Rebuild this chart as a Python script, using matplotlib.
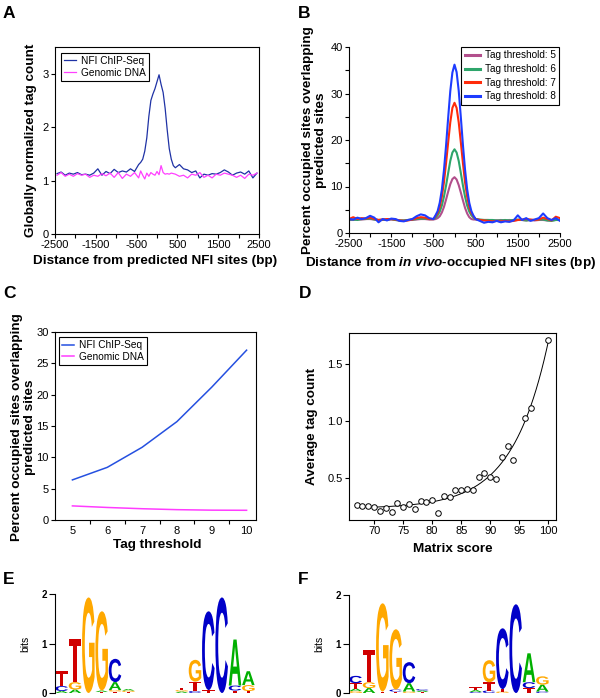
import numpy as np
import matplotlib
matplotlib.use("Agg")
import matplotlib.pyplot as plt
from matplotlib.textpath import TextPath
from matplotlib.font_manager import FontProperties
from matplotlib.patches import PathPatch
from matplotlib.transforms import Affine2D
from matplotlib.ticker import FixedLocator

plt.rcParams['font.family'] = ['Liberation Sans', 'DejaVu Sans']
plt.rcParams['mathtext.fontset'] = 'custom'
plt.rcParams['mathtext.it'] = 'Liberation Sans:italic:bold'
plt.rcParams['mathtext.rm'] = 'Liberation Sans:bold'
plt.rcParams['axes.linewidth'] = 0.8

# ---------------- Panel A data ----------------
a_x = [-2450, -2350, -2250, -2150, -2050, -1950, -1850, -1750, -1650, -1550,
       -1450, -1350, -1250, -1150, -1050, -950, -850, -750, -650, -550,
       -450, -400, -350, -300, -250, -200, -150, -100, -50, 0,
       50, 100, 150, 200, 250, 300, 350, 400, 450, 550,
       650, 750, 850, 950, 1050, 1150, 1250, 1350, 1450, 1550,
       1650, 1750, 1850, 1950, 2050, 2150, 2250, 2350, 2450]
a_chip = [1.13, 1.16, 1.10, 1.14, 1.12, 1.15, 1.11, 1.12, 1.10, 1.14,
          1.22, 1.10, 1.17, 1.13, 1.21, 1.15, 1.18, 1.16, 1.22, 1.17,
          1.30, 1.34, 1.40, 1.55, 1.80, 2.20, 2.50, 2.62, 2.72, 2.85,
          2.98, 2.80, 2.65, 2.35, 1.95, 1.60, 1.40, 1.28, 1.24, 1.30,
          1.22, 1.20, 1.15, 1.18, 1.05, 1.12, 1.10, 1.13, 1.12, 1.15,
          1.20, 1.16, 1.10, 1.14, 1.16, 1.12, 1.18, 1.05, 1.14]
a_genomic = [1.10, 1.15, 1.08, 1.12, 1.08, 1.13, 1.10, 1.12, 1.06, 1.10,
             1.08, 1.13, 1.09, 1.14, 1.06, 1.15, 1.04, 1.12, 1.08, 1.15,
             1.05, 1.18, 1.10, 1.03, 1.14, 1.08, 1.15, 1.12, 1.10, 1.17,
             1.11, 1.28, 1.15, 1.12, 1.13, 1.12, 1.14, 1.13, 1.12, 1.08,
             1.10, 1.05, 1.12, 1.10, 1.15, 1.06, 1.10, 1.05, 1.12, 1.10,
             1.14, 1.12, 1.10, 1.06, 1.10, 1.04, 1.12, 1.10, 1.14]

# ---------------- Panel B data ----------------
b_x = [-2500, -2400, -2300, -2200, -2100, -2000, -1900, -1800, -1700, -1600,
       -1500, -1400, -1300, -1200, -1100, -1000, -900, -800, -700, -600, -500,
       -450, -400, -350, -300, -250, -200, -150, -100, -50, 0,
       50, 100, 150, 200, 250, 300, 350, 400, 450,
       500, 600, 700, 800, 900, 1000, 1100, 1200, 1300, 1400,
       1500, 1600, 1700, 1800, 1900, 2000, 2100, 2200, 2300, 2400, 2500]
b_t5 = [2.8, 2.8, 2.9, 2.9, 3.0, 3.0, 2.9, 2.8, 2.9, 2.8,
        2.9, 2.8, 2.7, 2.7, 2.8, 2.8, 2.9, 3.0, 3.0, 2.9, 2.9,
        3.0, 3.2, 3.6, 4.4, 5.6, 7.2, 8.9, 10.5, 11.6, 12.0,
        11.5, 10.3, 8.7, 7.0, 5.4, 4.2, 3.4, 3.0, 2.9,
        2.9, 2.8, 2.8, 2.8, 2.7, 2.7, 2.8, 2.7, 2.8, 2.7,
        2.8, 2.8, 2.7, 2.8, 2.7, 2.8, 2.8, 2.7, 2.7, 2.8, 2.8]
b_t6 = [2.9, 2.9, 2.8, 3.0, 3.0, 3.1, 2.9, 2.8, 2.8, 2.9,
        3.0, 2.8, 2.7, 2.7, 2.8, 2.9, 3.0, 3.1, 3.1, 3.0, 3.0,
        3.3, 3.8, 4.6, 5.9, 7.8, 10.2, 12.9, 15.5, 17.3, 18.0,
        17.3, 15.5, 12.9, 10.2, 7.8, 5.9, 4.6, 3.8, 3.3,
        3.0, 2.9, 2.8, 2.8, 2.8, 2.7, 2.7, 2.8, 2.7, 2.8,
        2.9, 2.8, 2.7, 2.8, 2.8, 2.9, 2.9, 2.7, 2.6, 2.8, 2.8]
b_t7 = [3.0, 3.4, 3.0, 3.2, 3.1, 3.3, 3.0, 2.8, 2.9, 3.0,
        3.0, 2.9, 2.7, 2.6, 2.7, 2.9, 3.2, 3.4, 3.3, 3.0, 3.0,
        3.6, 4.3, 5.6, 7.8, 10.9, 15.0, 19.5, 23.8, 26.9, 28.0,
        26.9, 23.8, 19.5, 15.0, 10.9, 7.8, 5.6, 4.3, 3.6,
        3.0, 2.8, 2.7, 2.6, 2.5, 2.6, 2.5, 2.6, 2.5, 2.6,
        2.8, 2.9, 3.0, 2.9, 2.8, 2.9, 3.3, 3.0, 2.7, 3.5, 3.2]
b_t8 = [3.0, 2.9, 3.3, 3.0, 3.2, 3.7, 3.3, 2.3, 3.0, 2.7,
        3.1, 3.0, 2.6, 2.5, 2.8, 3.0, 3.6, 4.0, 3.8, 3.2, 3.0,
        3.8, 4.7, 6.5, 9.3, 13.5, 18.8, 24.8, 30.5, 34.5, 36.2,
        34.6, 30.6, 24.9, 18.9, 13.6, 9.4, 6.5, 4.7, 3.7,
        3.0, 2.6, 2.2, 2.4, 2.3, 2.6, 2.3, 2.5, 2.4, 2.7,
        3.8, 2.8, 3.2, 2.6, 2.9, 3.2, 4.2, 3.2, 2.8, 3.2, 2.6]
b_labels = ['Tag threshold: 5', 'Tag threshold: 6', 'Tag threshold: 7', 'Tag threshold: 8']

# ---------------- Panel C data ----------------
c_thresholds = [5, 6, 7, 8, 9, 10]
c_chip = [6.4, 8.4, 11.6, 15.7, 21.2, 27.1]
c_genomic = [2.25, 2.0, 1.8, 1.65, 1.57, 1.55]

# ---------------- Panel D data ----------------
d_score = [67, 68, 69, 70, 71, 72, 73, 74, 75, 76, 77, 78, 79, 80, 81, 82, 83,
           84, 85, 86, 87, 88, 89, 90, 91, 92, 93, 94, 96, 97, 100]
d_count = [0.257, 0.251, 0.251, 0.243, 0.208, 0.231, 0.202, 0.275, 0.246, 0.269,
           0.228, 0.292, 0.289, 0.307, 0.190, 0.336, 0.330, 0.389, 0.392, 0.400,
           0.389, 0.503, 0.541, 0.503, 0.488, 0.684, 0.775, 0.652, 1.026, 1.111,
           1.713]

# ---------------- Panel E / F logo data (letters bottom->top, heights in bits) ----
e_letters = ["ACT", "AGT", "G", "TAG", "TGAC", "TGA", "", "", "",
             "AGT", "CTG", "TC", "C", "TCA", "TGA"]
e_heights = [[0.04, 0.10, 0.30], [0.07, 0.15, 0.88], [1.93], [0.02, 0.03, 1.60],
             [0.03, 0.03, 0.16, 0.47], [0.02, 0.03, 0.03], [], [], [],
             [0.03, 0.03, 0.05], [0.04, 0.19, 0.44], [0.06, 1.59], [1.93],
             [0.05, 0.10, 0.93], [0.04, 0.12, 0.28]]
f_letters = ["GATC", "AGT", "TG", "TCG", "GAC", "TAC", "", "", "",
             "CAT", "CTG", "GTC", "C", "TCA", "CAG"]
f_heights = [[0.04, 0.05, 0.11, 0.15], [0.10, 0.12, 0.66], [0.03, 1.80],
             [0.03, 0.04, 1.23], [0.03, 0.17, 0.43], [0.02, 0.03, 0.03], [], [], [],
             [0.02, 0.04, 0.06], [0.05, 0.17, 0.45], [0.03, 0.05, 1.24], [1.81],
             [0.10, 0.12, 0.59], [0.03, 0.14, 0.17]]
base_colors = {'A': '#00b000', 'C': '#0000c8', 'G': '#ffa800', 'T': '#d00000'}

# ---------------- figure ----------------
W, H = 600, 698
fig = plt.figure(figsize=(W / 100, H / 100), dpi=100)


def axes_px(left, top, right, bottom):
    return fig.add_axes([left / W, (H - bottom) / H, (right - left) / W, (bottom - top) / H])


LBL = 9.7
TICK = 8
tick_kw = dict(direction='out', length=3, width=0.8, labelsize=TICK, pad=1.5)

# Panel A
axA = axes_px(55, 47, 259, 234)
axA.plot(a_x, a_chip, color='#1f32a5', lw=0.9, label='NFI ChIP-Seq')
axA.plot(a_x, a_genomic, color='#ff40ff', lw=0.9, label='Genomic DNA')
axA.set_xlim(-2500, 2500)
axA.set_ylim(0, 3.5)
axA.set_xticks(np.arange(-2500, 2501, 500))
axA.set_xticklabels(['-2500', '', '-1500', '', '-500', '', '500', '', '1500', '', '2500'])
axA.set_yticks([0, 1, 2, 3])
axA.tick_params(**tick_kw)
axA.set_xlabel('Distance from predicted NFI sites (bp)', fontsize=LBL, fontweight='bold')
axA.xaxis.set_label_coords(0.49, -0.112)
axA.set_ylabel('Globally normalized tag count', fontsize=LBL, fontweight='bold')
axA.yaxis.set_label_coords(-0.088, 0.5)
legA = axA.legend(loc='upper left', bbox_to_anchor=(0.029, 0.968), borderaxespad=0,
                  fontsize=7.3, fancybox=False, edgecolor='black', framealpha=1,
                  handlelength=1.2, handletextpad=0.45, borderpad=0.3, labelspacing=0.15)
legA.get_frame().set_linewidth(0.8)

# Panel B
axB = axes_px(349, 47, 560, 233)
b_colors = ['#b24f8c', '#2ea56b', '#ff2b0a', '#1e3cff']
for ys, col, lab in zip([b_t5, b_t6, b_t7, b_t8], b_colors, b_labels):
    axB.plot(b_x, ys, color=col, lw=1.5, label=lab)
axB.set_xlim(-2500, 2500)
axB.set_ylim(0, 40)
axB.set_xticks(np.arange(-2500, 2501, 500))
axB.set_xticklabels(['-2500', '', '-1500', '', '-500', '', '500', '', '1500', '', '2500'])
axB.set_yticks([0, 10, 20, 30, 40])
axB.yaxis.set_minor_locator(FixedLocator([5, 15, 25, 35]))
axB.tick_params(**tick_kw)
axB.tick_params(which='minor', direction='out', length=3, width=0.8)
for s in ['top', 'right']:
    axB.spines[s].set_visible(False)
axB.set_xlabel(r'Distance from $in\ vivo$-occupied NFI sites (bp)', fontsize=LBL, fontweight='bold')
axB.xaxis.set_label_coords(0.483, -0.118)
axB.set_ylabel('Percent occupied sites overlapping\npredicted sites', fontsize=LBL,
               fontweight='bold', linespacing=1.15)
axB.yaxis.set_label_coords(-0.104, 0.5)
legB = axB.legend(loc='upper right', bbox_to_anchor=(0.997, 1.0), borderaxespad=0,
                  fontsize=7.2, fancybox=False, edgecolor='black', framealpha=1,
                  handlelength=1.5, handletextpad=0.5, borderpad=0.35, labelspacing=0.35)
legB.get_frame().set_linewidth(0.8)
for lh in legB.get_lines():
    lh.set_linewidth(2.2)

# Panel C
axC = axes_px(55, 332, 256, 520)
axC.plot(c_thresholds, c_chip, color='#2550e0', lw=1.1, label='NFI ChIP-Seq')
axC.plot(c_thresholds, c_genomic, color='#ff3cff', lw=1.1, label='Genomic DNA')
axC.set_xlim(4.5, 10.27)
axC.set_ylim(0, 30)
axC.set_xticks(c_thresholds)
axC.xaxis.set_minor_locator(FixedLocator([5.5, 6.5, 7.5, 8.5, 9.5]))
axC.set_yticks(np.arange(0, 31, 5))
axC.tick_params(**tick_kw)
axC.tick_params(axis='x', which='major', length=0, pad=4)
axC.tick_params(axis='x', which='minor', direction='out', length=3, width=0.8)
axC.set_xlabel('Tag threshold', fontsize=LBL, fontweight='bold')
axC.xaxis.set_label_coords(0.51, -0.10)
axC.set_ylabel('Percent occupied sites overlapping\npredicted sites', fontsize=LBL,
               fontweight='bold', linespacing=1.15)
axC.yaxis.set_label_coords(-0.095, 0.495)
legC = axC.legend(loc='upper left', bbox_to_anchor=(0.02, 0.973), borderaxespad=0,
                  fontsize=7.3, fancybox=False, edgecolor='black', framealpha=1,
                  handlelength=1.2, handletextpad=0.45, borderpad=0.3, labelspacing=0.15)
legC.get_frame().set_linewidth(0.8)

# Panel D
axD = axes_px(349, 333, 556, 520)
mx = np.asarray(d_score, float)
my = np.asarray(d_count, float)
best = None
for c in np.linspace(0.01, 0.4, 400):
    X = np.column_stack([np.ones_like(mx), np.exp(c * (mx - 100))])
    coef = np.linalg.lstsq(X, my, rcond=None)[0]
    sse = np.sum((X @ coef - my) ** 2)
    if best is None or sse < best[0]:
        best = (sse, c, coef)
_, cbest, coefbest = best
fx = np.linspace(70, 100, 200)
fy = coefbest[0] + coefbest[1] * np.exp(cbest * (fx - 100))
axD.plot(fx, fy, color='black', lw=0.7)
axD.plot(mx, my, linestyle='none', marker='o', markersize=4, markerfacecolor='white',
         markeredgecolor='black', markeredgewidth=0.7)
axD.set_xlim(65.68, 101.32)
axD.set_ylim(0.129, 1.771)
axD.set_xticks([70, 75, 80, 85, 90, 95, 100])
axD.set_yticks([0.5, 1.0, 1.5])
axD.set_yticklabels(['0.5', '1.0', '1.5'])
axD.tick_params(**tick_kw)
axD.set_xlabel('Matrix score', fontsize=LBL, fontweight='bold')
axD.xaxis.set_label_coords(0.5, -0.123)
axD.set_ylabel('Average tag count', fontsize=LBL, fontweight='bold')
axD.yaxis.set_label_coords(-0.15, 0.5)

# Logos
logo_font = FontProperties(family='Liberation Sans', weight='bold')


def draw_logo(ax, letters, heights):
    for i, (lets, hs) in enumerate(zip(letters, heights)):
        y = 0.0
        for ch, h in zip(lets, hs):
            tp = TextPath((0, 0), ch, size=1, prop=logo_font)
            bb = tp.get_extents()
            w = 0.94
            tr = Affine2D().translate(-bb.x0, -bb.y0).scale(w / bb.width, h / bb.height) \
                .translate(i + 1 - w / 2, y)
            ax.add_patch(PathPatch(tr.transform_path(tp), facecolor=base_colors[ch],
                                   edgecolor='none'))
            y += h
    ax.set_xlim(0.5, 15.5)
    ax.set_ylim(0, 2)
    for s in ['top', 'right', 'bottom']:
        ax.spines[s].set_visible(False)
    ax.set_xticks([])
    ax.set_yticks([0, 1, 2])
    ax.tick_params(axis='y', direction='out', length=4, width=0.8, labelsize=7, pad=2)
    for t in ax.get_yticklabels():
        t.set_fontweight('bold')
    ax.set_ylabel('bits', fontsize=7.5)
    ax.yaxis.set_label_coords(-0.125, 0.5)


axE = axes_px(55, 594, 255, 693)
draw_logo(axE, e_letters, e_heights)
axF = axes_px(349, 595, 549, 693)
draw_logo(axF, f_letters, f_heights)

# Panel letters
for lab, x, y in [('A', 3, 6), ('B', 298, 6), ('C', 3, 286), ('D', 299, 286),
                  ('E', 3, 572), ('F', 298, 572)]:
    fig.text(x / W, 1 - y / H, lab, fontsize=12.5, fontweight='bold', va='top', ha='left')

fig.savefig('out.png', dpi=100)
